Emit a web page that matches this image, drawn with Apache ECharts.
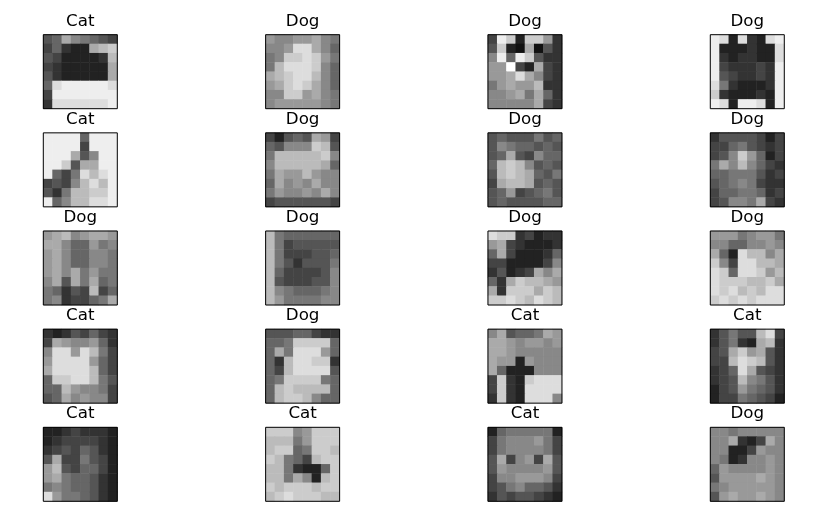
<!DOCTYPE html>
<html>
<head>
<meta charset="utf-8">
<script src="https://cdn.jsdelivr.net/npm/echarts@6/dist/echarts.min.js"></script>
<style>
  html, body { margin: 0; padding: 0; background: #fff; }
  #chart { width: 820px; height: 521px; }
</style>
</head>
<body>
<div id="chart"></div>
<script>
// panel titles, left to right, top to bottom
var labels = ['Cat', 'Dog', 'Dog', 'Dog',
              'Cat', 'Dog', 'Dog', 'Dog',
              'Dog', 'Dog', 'Dog', 'Dog',
              'Cat', 'Dog', 'Cat', 'Cat',
              'Cat', 'Cat', 'Cat', 'Dog'];

// coarse 8x8 grey levels (0 = black, f = white), rows top to bottom
var images = [
  ['56a87654', '46322abc', '5422223b', '4322222a', '5322222a', '6deeeeed', '4eeeeeee', '3dddddde'],
  ['98899a87', '889dda86', '78ccdc97', '7bdddc86', 'abcddb86', '9acdca86', '88cc9a87', '89999987'],
  ['4ec2cc93', '5c21a153', '8e6ec533', '99f42a43', '99ada843', '79a99b33', '889a7a63', '88888a43'],
  ['ed2d32de', 'e222322d', 'e323322d', 'e433343e', 'e543343e', 'd732223e', 'c322232e', 'ed2eed2e'],
  ['eeee6eee', 'eeee4eee', 'eeea58ee', 'eec5aaee', 'e647dbde', '4548bdbe', '537bbcce', 'e68bbdde'],
  ['42565a94', '65888cb5', '7bbbbbc8', '8bbbbba6', '7a99b988', '6a898a88', '798898a8', '45555554'],
  ['56555756', '58766565', '56a54866', '6bcb8565', '5bcba657', '4abba565', '56945675', '56555566'],
  ['35555424', '44675434', '458c9624', '7a8b8643', '66777534', '56787433', '46677634', '45887a43'],
  ['9ab89aa9', 'aa866978', '9a866887', '9a866887', '9a8a7977', '8a5a7a67', '76354b46', '7834467a'],
  ['b7666666', 'b7455555', 'b7444556', 'b7535557', 'b6444458', 'b5444558', 'b8766678', 'b9777788'],
  ['dcc34233', '9a432223', '6a422236', '44222248', '35234a8a', '63acbba9', 'a3cccacb', 'ccdcbdcb'],
  ['99978997', '88668898', 'a62dbb8a', 'c84ddbba', 'dc6ddc9b', 'dcccbbca', 'dcdbcbdd', 'cdcdcddd'],
  ['32354643', '4a988963', '8dd9db74', '9dddd964', 'addddb64', '6ccddb75', '66b98874', '56a89884'],
  ['55566433', '667cccc6', '6a7ddd96', '63bddcc3', '64bdddd5', '67cccc76', '6bcbbbb6', '6bccb866'],
  ['8a5667a9', 'aa989989', 'aa988888', 'a9929888', 'a6222888', '4c32cddd', '4c32dddd', '3c32ddd8'],
  ['35755bd4', '35732ab3', '45ac9a53', '44bdcb53', '346da543', '345b8753', '24597653', '24476542'],
  ['22343332', '23444432', '34546532', '5a447542', '9b546642', '9a766532', '78766532', 'd9776532'],
  ['ccc89ccc', 'bbb79ccc', 'bcc67ccb', 'cb764bcc', 'bb73226c', 'bb7a82bc', 'cbcccbcc', 'bcdcccbb'],
  ['26777772', '47888974', '47888874', '5a4894a5', '59888895', '48899984', '45786653', '35455432'],
  ['88788888', '88a324a8', '88224988', '87238898', '69888898', '59999a98', '78999998', '59a99a98']
];

var cells = ['0', '1', '2', '3', '4', '5', '6', '7'];

var chart = echarts.init(document.getElementById('chart'));

var COLS = 4;
var panelW = 74, panelH = 74;
var x0 = 43.3, dx = 222.33;
var y0 = 34.7, dy = 98.15;

var titles = [], grids = [], xAxes = [], yAxes = [], series = [];

images.forEach(function (img, i) {
  var c = i % COLS, r = Math.floor(i / COLS);
  var left = x0 + c * dx, top = y0 + r * dy;

  titles.push({
    text: labels[i],
    left: left + panelW / 2,
    top: top - 22,
    textAlign: 'center',
    padding: 0,
    textStyle: { fontFamily: 'DejaVu Sans', fontSize: 16.7, fontWeight: 'normal', color: '#000' }
  });

  grids.push({
    left: left, top: top, width: panelW, height: panelH,
    show: true, z: 10, backgroundColor: 'transparent',
    borderColor: '#000', borderWidth: 1
  });

  xAxes.push({ type: 'category', gridIndex: i, data: cells, show: false });
  yAxes.push({ type: 'category', gridIndex: i, data: cells, inverse: true, show: false });

  var data = [];
  img.forEach(function (row, y) {
    for (var x = 0; x < row.length; x++) {
      data.push([x, y, parseInt(row[x], 16)]);
    }
  });

  series.push({
    type: 'heatmap',
    xAxisIndex: i,
    yAxisIndex: i,
    data: data,
    itemStyle: { borderWidth: 0 },
    emphasis: { disabled: true }
  });
});

var option = {
  backgroundColor: '#fff',
  animation: false,
  title: titles,
  grid: grids,
  xAxis: xAxes,
  yAxis: yAxes,
  visualMap: {
    type: 'continuous',
    show: false,
    min: 0,
    max: 15,
    inRange: { color: ['#000000', '#ffffff'] }
  },
  series: series
};

chart.setOption(option);
</script>
</body>
</html>
